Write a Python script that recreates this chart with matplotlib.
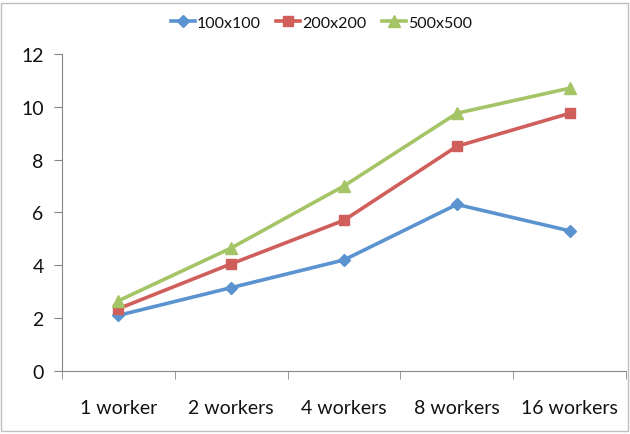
import matplotlib
matplotlib.use("Agg")
import matplotlib.pyplot as plt
from matplotlib.patches import Rectangle

plt.rcParams['font.family'] = ['Lato', 'DejaVu Sans']

categories = ['1 worker', '2 workers', '4 workers', '8 workers', '16 workers']
s100 = [2.1, 3.15, 4.2, 6.3, 5.3]
s200 = [2.35, 4.05, 5.7, 8.5, 9.75]
s500 = [2.65, 4.65, 7.0, 9.75, 10.7]

fig = plt.figure(figsize=(6.3, 4.35), dpi=100)
ax = fig.add_axes([0.098, 0.145, 0.896, 0.729])

x = range(len(categories))
ax.plot(x, s100, color='#5A93CF', marker='D', markersize=6, linewidth=2.6, label='100x100')
ax.plot(x, s200, color='#D05E5A', marker='s', markersize=7, linewidth=2.6, label='200x200')
ax.plot(x, s500, color='#A5C466', marker='^', markersize=8, linewidth=2.6, label='500x500')

ax.set_xlim(-0.5, len(categories) - 0.5)
ax.set_ylim(0, 12)
ax.set_yticks(range(0, 13, 2))
ax.set_xticks(list(x))
ax.set_xticklabels(categories)
ax.set_xticks([i - 0.5 for i in range(len(categories) + 1)], minor=True)
ax.tick_params(axis='x', which='major', length=0, pad=20, labelsize=14, labelcolor='#111111')
ax.tick_params(axis='x', which='minor', length=6, color='#868686', direction='out')
ax.tick_params(axis='y', length=6, color='#868686', labelsize=14, pad=7, labelcolor='#111111')

for side in ['top', 'right']:
    ax.spines[side].set_visible(False)
for side in ['left', 'bottom']:
    ax.spines[side].set_color('#868686')

fig.legend(loc='upper center', bbox_to_anchor=(0.51, 0.995), ncol=3, frameon=False,
           fontsize=11.5, handlelength=1.5, handletextpad=0.1, columnspacing=1.0,
           labelcolor='#111111')

fig.patches.append(Rectangle((0.002, 0.006), 0.995, 0.985, transform=fig.transFigure,
                             fill=False, edgecolor='#BFBFBF', linewidth=1))

fig.savefig('out.png', dpi=100)
